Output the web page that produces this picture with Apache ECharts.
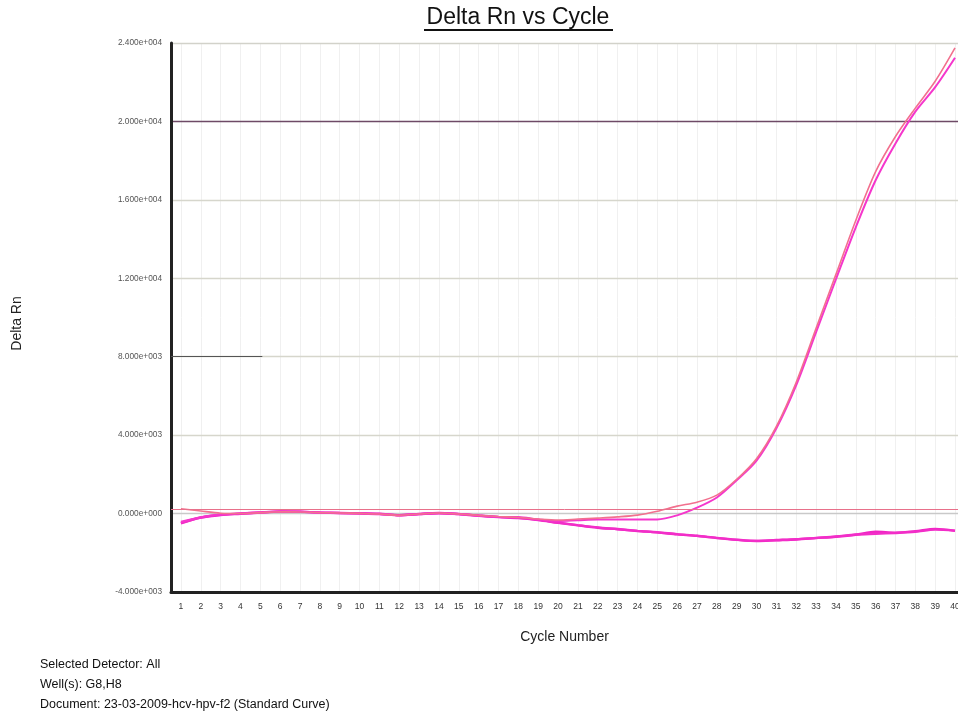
<!DOCTYPE html>
<html>
<head>
<meta charset="utf-8">
<title>Delta Rn vs Cycle</title>
<script src="https://cdn.jsdelivr.net/npm/echarts@6/dist/echarts.min.js"></script>
<style>
  html, body { margin: 0; padding: 0; background: #ffffff; }
  #chart { width: 958px; height: 714px; }
</style>
</head>
<body>
<div id="chart"></div>
<script>
// Amplification plot: Delta Rn per PCR cycle for wells G8 and H8.
const cycles = [1,2,3,4,5,6,7,8,9,10,11,12,13,14,15,16,17,18,19,20,
                21,22,23,24,25,26,27,28,29,30,31,32,33,34,35,36,37,38,39,40];

// amplifying well, detector 1 (salmon trace)
const g8Amp = [250,130,20,0,50,90,80,50,30,10,-20,-90,-20,30,-20,-90,-150,-200,-280,-330,
               -280,-230,-170,-80,120,380,580,940,1750,2800,4450,6700,9450,12200,14950,17440,19230,20680,22050,23750];
// amplifying well, detector 2 (magenta trace)
const h8Amp = [-420,-190,-50,10,60,100,90,50,30,10,-20,-90,-20,30,-20,-100,-170,-180,-300,-380,
               -340,-300,-300,-300,-300,-90,300,820,1700,2700,4350,6550,9250,11950,14600,17000,18880,20500,21750,23250];
// non-amplifying traces
const g8Flat = [-500,-210,-70,-10,50,110,100,50,30,10,-20,-90,-20,30,-30,-110,-180,-230,-330,-470,
                -600,-720,-800,-890,-960,-1060,-1140,-1250,-1340,-1400,-1360,-1320,-1250,-1180,-1080,-930,-970,-900,-780,-880];
const h8Flat = [-470,-200,-60,0,60,100,90,60,30,10,-10,-80,-30,20,-20,-100,-170,-220,-320,-460,
                -590,-710,-790,-880,-950,-1050,-1130,-1240,-1330,-1390,-1350,-1310,-1240,-1170,-1070,-1030,-990,-930,-820,-870];

const threshold = 200;
const yTicks = { min: -4000, max: 24000, step: 4000 };
const xLabels = cycles.slice();

const pair = (vals) => cycles.map((c, i) => [c, vals[i]]);

const fmtExp = (v) => {
  const s = Number(v).toExponential(3);           // e.g. 2.400e+4
  const m = s.match(/^(-?[\d.]+)e([+-])(\d+)$/);
  return m[1] + 'e' + m[2] + m[3].padStart(3, '0');
};

const FONT = '"Liberation Sans", Arial, sans-serif';
const chart = echarts.init(document.getElementById('chart'), null, { renderer: 'canvas' });

chart.setOption({
  backgroundColor: '#ffffff',
  animation: false,
  textStyle: { fontFamily: FONT },
  grid: { left: 171, top: 43, right: 0, bottom: 122, containLabel: false, outerBoundsMode: 'none' },
  xAxis: {
    type: 'value',
    min: 0.5,
    max: 40.15,
    z: 0,
    name: 'Cycle Number',
    nameLocation: 'middle',
    nameGap: 38,
    nameTextStyle: { fontFamily: FONT, fontSize: 14, color: '#222' },
    axisLine: { show: true, onZero: false, lineStyle: { color: '#222', width: 3 } },
    axisTick: { show: false, customValues: xLabels },
    axisLabel: { customValues: xLabels, fontFamily: FONT, fontSize: 8.5, color: '#333', margin: 10 },
    splitLine: { show: true, lineStyle: { color: '#f0f0f0', width: 1 } }
  },
  yAxis: {
    type: 'value',
    min: yTicks.min,
    max: yTicks.max,
    interval: yTicks.step,
    z: 1,
    name: 'Delta Rn',
    nameLocation: 'middle',
    nameGap: 147,
    nameRotate: 90,
    nameTextStyle: { fontFamily: FONT, fontSize: 14, color: '#222', padding: [0, 12, 0, 0] },
    axisLine: { show: true, onZero: false, lineStyle: { color: '#222', width: 3 } },
    axisTick: { show: false },
    axisLabel: { formatter: fmtExp, fontFamily: FONT, fontSize: 8.3, color: '#555', margin: 9 },
    splitLine: {
      show: true,
      lineStyle: {
        color: ['#222222', '#c9c9c9', '#d6d6cc', '#d6d6cc', '#d6d6cc', '#d6d6cc', '#6e4a66', '#d2d2ca'],
        width: 1.3
      }
    }
  },
  series: [
    {
      name: 'G8 flat', type: 'line', data: pair(g8Flat), showSymbol: false, smooth: 0.3,
      lineStyle: { color: '#f024c4', width: 2.4 }, z: 2
    },
    {
      name: 'H8 flat', type: 'line', data: pair(h8Flat), showSymbol: false, smooth: 0.3,
      lineStyle: { color: '#f22ec8', width: 2.4 }, z: 2
    },
    {
      name: 'H8 amp', type: 'line', data: pair(h8Amp), showSymbol: false, smooth: 0.3,
      lineStyle: { color: '#f536cc', width: 2 }, z: 3
    },
    {
      name: 'G8 amp', type: 'line', data: pair(g8Amp), showSymbol: false, smooth: 0.3,
      lineStyle: { color: '#f2708e', width: 1.6 }, z: 4,
      markLine: {
        silent: true,
        symbol: 'none',
        label: { show: false },
        data: [
          { yAxis: threshold, lineStyle: { color: '#e8708a', width: 1, type: 'solid' } },
          [
            { coord: [0.5, 8000], lineStyle: { color: '#555555', width: 1.2, type: 'solid' } },
            { coord: [5.1, 8000] }
          ]
        ]
      }
    }
  ],
  graphic: [
    {
      type: 'text', x: 518, y: 6,
      style: { text: 'Delta Rn vs Cycle', font: '23px ' + FONT, fill: '#111', textAlign: 'center', textVerticalAlign: 'top' }
    },
    {
      type: 'line', shape: { x1: 424, y1: 30, x2: 613, y2: 30 },
      style: { stroke: '#111', lineWidth: 2 }
    },
    {
      type: 'text', x: 40, y: 658,
      style: { text: 'Selected Detector: All', font: '12.5px ' + FONT, fill: '#111' }
    },
    {
      type: 'text', x: 40, y: 678,
      style: { text: 'Well(s): G8,H8', font: '12.5px ' + FONT, fill: '#111' }
    },
    {
      type: 'text', x: 40, y: 698,
      style: { text: 'Document: 23-03-2009-hcv-hpv-f2 (Standard Curve)', font: '12.5px ' + FONT, fill: '#111' }
    }
  ]
});
</script>
</body>
</html>
